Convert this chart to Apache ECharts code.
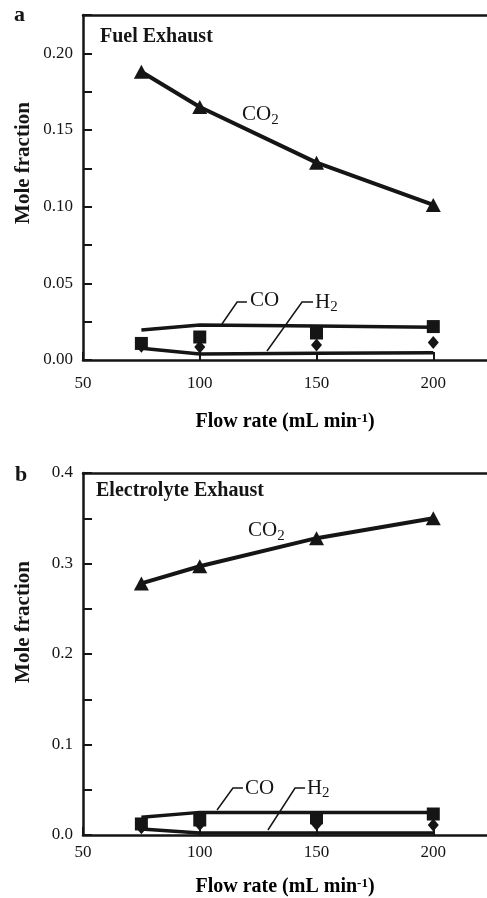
<!DOCTYPE html>
<html>
<head>
<meta charset="UTF-8">
<title>Mole fraction vs flow rate</title>
<style>
html, body { margin: 0; padding: 0; background: #ffffff; }
#main { width: 487px; height: 898px; }
</style>
</head>
<body>
<div id="main"></div>
<script src="https://cdn.jsdelivr.net/npm/echarts@6/dist/echarts.min.js"></script>
<script>
// flow rates (mL/min)
var flow = [75, 100, 150, 200];

// panel a - fuel exhaust
var fuelCO2 = [0.188, 0.165, 0.1287, 0.1011];
var fuelCOData = [0.0108, 0.0150, 0.0176, 0.0218];
var fuelCOLine = [0.0196, 0.0228, 0.0222, 0.0213];
var fuelH2Data = [0.0090, 0.0085, 0.0098, 0.0114];
var fuelH2Line = [0.0076, 0.0039, 0.0044, 0.0048];

// panel b - electrolyte exhaust
var elecCO2 = [0.278, 0.297, 0.328, 0.350];
var elecCOData = [0.0122, 0.0166, 0.0190, 0.0232];
var elecCOLine = [0.0195, 0.0250, 0.0250, 0.0250];
var elecH2Data = [0.0080, 0.0116, 0.0120, 0.0110];
var elecH2Line = [0.0066, 0.0022, 0.0022, 0.0022];

// tick labels
var xTickLabels = [50, 100, 150, 200];
var yTickLabelsA = ['0.00', '0.05', '0.10', '0.15', '0.20'];
var yTickLabelsB = ['0.0', '0.1', '0.2', '0.3', '0.4'];

var ink = '#151515';
var serif = 'Liberation Serif';

function pairs(ys) {
  return flow.map(function (x, i) { return [x, ys[i]]; });
}

function yLabelFmt(list) {
  return function (v) {
    for (var i = 0; i < list.length; i++) {
      if (Math.abs(parseFloat(list[i]) - v) < 1e-6) return list[i];
    }
    return '';
  };
}

function xAxisBottom(grid, margin) {
  return {
    type: 'value', gridIndex: grid, position: 'bottom',
    min: 50, max: 223, interval: 50,
    axisLine: { show: true, lineStyle: { color: ink, width: 2.5 } },
    axisTick: { show: true, inside: true, length: 8, lineStyle: { color: ink, width: 2 } },
    axisLabel: {
      margin: margin, color: ink, fontFamily: serif, fontSize: 17, showMaxLabel: false,
      formatter: function (v) { return xTickLabels.indexOf(v) >= 0 ? String(v) : ''; }
    },
    splitLine: { show: false }
  };
}

function xAxisTop(grid) {
  return {
    type: 'value', gridIndex: grid, position: 'top',
    min: 50, max: 223,
    axisLine: { show: true, lineStyle: { color: ink, width: 2.5 } },
    axisTick: { show: false }, axisLabel: { show: false }, splitLine: { show: false }
  };
}

function yAxis(grid, max, step, list) {
  return {
    type: 'value', gridIndex: grid, min: 0, max: max, interval: step,
    axisLine: { show: true, lineStyle: { color: ink, width: 2.5 } },
    axisTick: { show: true, inside: true, length: 9, lineStyle: { color: ink, width: 2 } },
    axisLabel: { margin: 10, color: ink, fontFamily: serif, fontSize: 17, formatter: yLabelFmt(list) },
    splitLine: { show: false }
  };
}

function panelSeries(xi, yi, co2, coData, coLine, h2Data, h2Line) {
  return [
    { type: 'line', xAxisIndex: xi, yAxisIndex: yi, data: pairs(co2),
      symbol: 'triangle', symbolSize: [15, 14], showSymbol: true,
      lineStyle: { color: ink, width: 4 }, itemStyle: { color: ink, opacity: 1 } },
    { type: 'line', xAxisIndex: xi, yAxisIndex: yi, data: pairs(coLine),
      showSymbol: false, lineStyle: { color: ink, width: 3.5 } },
    { type: 'line', xAxisIndex: xi, yAxisIndex: yi, data: pairs(h2Line),
      showSymbol: false, lineStyle: { color: ink, width: 3.5 } },
    { type: 'scatter', xAxisIndex: xi, yAxisIndex: yi, data: pairs(h2Data),
      symbol: 'diamond', symbolSize: [11, 13], itemStyle: { color: ink, opacity: 1 } },
    { type: 'scatter', xAxisIndex: xi, yAxisIndex: yi, data: pairs(coData),
      symbol: 'rect', symbolSize: 13, itemStyle: { color: ink, opacity: 1 } }
  ];
}

var chart = echarts.init(document.getElementById('main'));
chart.setOption({
  animation: false,
  backgroundColor: '#ffffff',
  grid: [
    { left: 83, right: 0, top: 15, height: 345 },
    { left: 83, right: 0, top: 473, height: 362 }
  ],
  xAxis: [xAxisBottom(0, 15), xAxisBottom(1, 9), xAxisTop(0), xAxisTop(1)],
  yAxis: [yAxis(0, 0.225, 0.025, yTickLabelsA), yAxis(1, 0.4, 0.05, yTickLabelsB)],
  series: panelSeries(0, 0, fuelCO2, fuelCOData, fuelCOLine, fuelH2Data, fuelH2Line)
    .concat(panelSeries(1, 1, elecCO2, elecCOData, elecCOLine, elecH2Data, elecH2Line))
});

// annotation anchors in data coordinates
var notes = [
  { finder: { xAxisIndex: 0, yAxisIndex: 0 },
    co2: [118.1, 0.160], co: [121.5, 0.0385], h2: [149.4, 0.0378],
    coLeader: [[109.5, 0.0235], [116.0, 0.0378], [120.2, 0.0378]],
    h2Leader: [[128.8, 0.0059], [143.8, 0.0378], [148.5, 0.0378]] },
  { finder: { xAxisIndex: 1, yAxisIndex: 1 },
    co2: [120.7, 0.3365], co: [119.4, 0.0519], h2: [145.9, 0.0519],
    coLeader: [[107.4, 0.0276], [114.2, 0.0519], [118.5, 0.0519]],
    h2Leader: [[129.2, 0.0055], [140.8, 0.0519], [145.1, 0.0519]] }
];

var rich = {
  b: { fontFamily: serif, fontSize: 20, fontWeight: 'bold', color: ink },
  sup: { fontFamily: serif, fontSize: 13, fontWeight: 'bold', color: ink, verticalAlign: 'top' }
};

var measure = document.createElement('canvas').getContext('2d');
measure.font = '21px "' + serif + '"';

function label(x, y, text, size, bold) {
  return { type: 'text', x: x, y: y, silent: true,
    style: { text: text, fill: ink, font: (bold ? 'bold ' : '') + size + 'px "' + serif + '"',
      align: 'left', verticalAlign: 'middle' } };
}

// chemical formula with subscript: main text + smaller lowered digit
function formula(g, pt, main, sub) {
  g.push(label(pt[0], pt[1], main, 21, false));
  if (sub) {
    var w = measure.measureText(main).width;
    g.push(label(pt[0] + w, pt[1] + 5.5, sub, 15, false));
  }
}

var g = [];
notes.forEach(function (n) {
  var p = function (d) { return chart.convertToPixel(n.finder, d); };
  formula(g, p(n.co2), 'CO', '2');
  formula(g, p(n.co), 'CO', '');
  formula(g, p(n.h2), 'H', '2');
  g.push({ type: 'polyline', silent: true, shape: { points: n.coLeader.map(p) },
    style: { stroke: ink, lineWidth: 1.5, fill: null } });
  g.push({ type: 'polyline', silent: true, shape: { points: n.h2Leader.map(p) },
    style: { stroke: ink, lineWidth: 1.5, fill: null } });
});

g.push(label(14, 15, 'a', 22, true));
g.push(label(15, 475, 'b', 22, true));
g.push(label(100, 36.5, 'Fuel Exhaust', 20, true));
g.push(label(96, 491, 'Electrolyte Exhaust', 20, true));
[163, 622].forEach(function (y) {
  g.push({ type: 'text', x: 24, y: y, rotation: Math.PI / 2, silent: true,
    style: { text: 'Mole fraction', fill: ink, font: 'bold 21px "' + serif + '"',
      align: 'center', verticalAlign: 'middle' } });
});
[422, 887].forEach(function (y) {
  g.push({ type: 'text', x: 285, y: y, silent: true,
    style: { text: '{b|Flow rate (mL min}{sup|-1}{b|)}', rich: rich,
      align: 'center', verticalAlign: 'middle' } });
});

chart.setOption({ graphic: g });
</script>
</body>
</html>
